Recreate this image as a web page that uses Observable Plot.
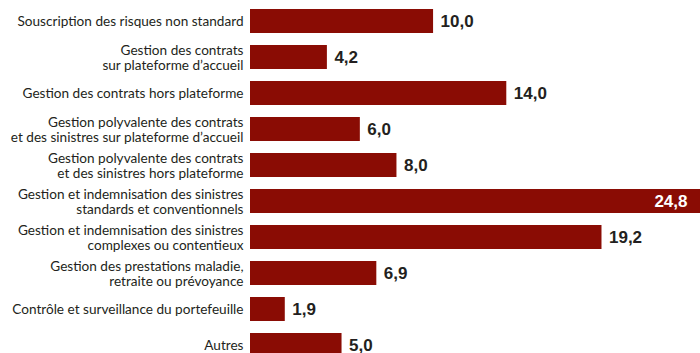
<!DOCTYPE html>
<html>
<head>
<meta charset="utf-8">
<script src="https://cdn.jsdelivr.net/npm/d3@7"></script>
<script src="https://cdn.jsdelivr.net/npm/@observablehq/plot@0.6"></script>
<style>
  html, body { margin: 0; padding: 0; background: #fff; overflow: hidden; }
  #chart svg { display: block; }
</style>
</head>
<body>
<div id="chart"></div>
<script>
const categories = [
  "Souscription des risques non standard",
  "Gestion des contrats\nsur plateforme d’accueil",
  "Gestion des contrats hors plateforme",
  "Gestion polyvalente des contrats\net des sinistres sur plateforme d’accueil",
  "Gestion polyvalente des contrats\net des sinistres hors plateforme",
  "Gestion et indemnisation des sinistres\nstandards et conventionnels",
  "Gestion et indemnisation des sinistres\ncomplexes ou contentieux",
  "Gestion des prestations maladie,\nretraite ou prévoyance",
  "Contrôle et surveillance du portefeuille",
  "Autres"
];
const values = [10.0, 4.2, 14.0, 6.0, 8.0, 24.8, 19.2, 6.9, 1.9, 5.0];

const data = categories.map((c, i) => ({category: c, value: values[i]}));
const fmt = v => v.toFixed(1).replace(".", ",");
const maxV = d3.max(values);
const outside = data.filter(d => d.value < maxV);
const inside = data.filter(d => d.value === maxV);

const labelFont = "Lato, 'Open Sans', sans-serif";

const chart = Plot.plot({
  width: 700,
  height: 353,
  marginLeft: 250,
  marginRight: 0,
  marginTop: 0,
  marginBottom: 0,
  style: {background: "#fff", overflow: "hidden"},
  x: {domain: [0, 24.8], range: [250, 704], axis: null},
  y: {domain: categories, range: [2, 364], paddingInner: 0.337, paddingOuter: 0.1685, label: null},
  marks: [
    Plot.barX(data, {y: "category", x: "value", fill: "#8a0c04"}),
    Plot.axisY({
      tickSize: 0,
      tickPadding: 7,
      fontSize: 13.6,
      fontFamily: labelFont,
      fill: "#231f20",
      lineHeight: 1.1,
      label: null
    }),
    Plot.text(outside, {
      y: "category", x: "value", text: d => fmt(d.value),
      dx: 7, textAnchor: "start",
      fontSize: 17, fontWeight: "bold", fill: "#231f20",
      fontFamily: "'Liberation Sans', Arial, sans-serif"
    }),
    Plot.text(inside, {
      y: "category", x: "value", text: d => fmt(d.value),
      dx: -17, textAnchor: "end",
      fontSize: 17, fontWeight: "bold", fill: "#ffffff",
      fontFamily: "'Liberation Sans', Arial, sans-serif"
    })
  ]
});
document.getElementById("chart").appendChild(chart);
</script>
</body>
</html>
